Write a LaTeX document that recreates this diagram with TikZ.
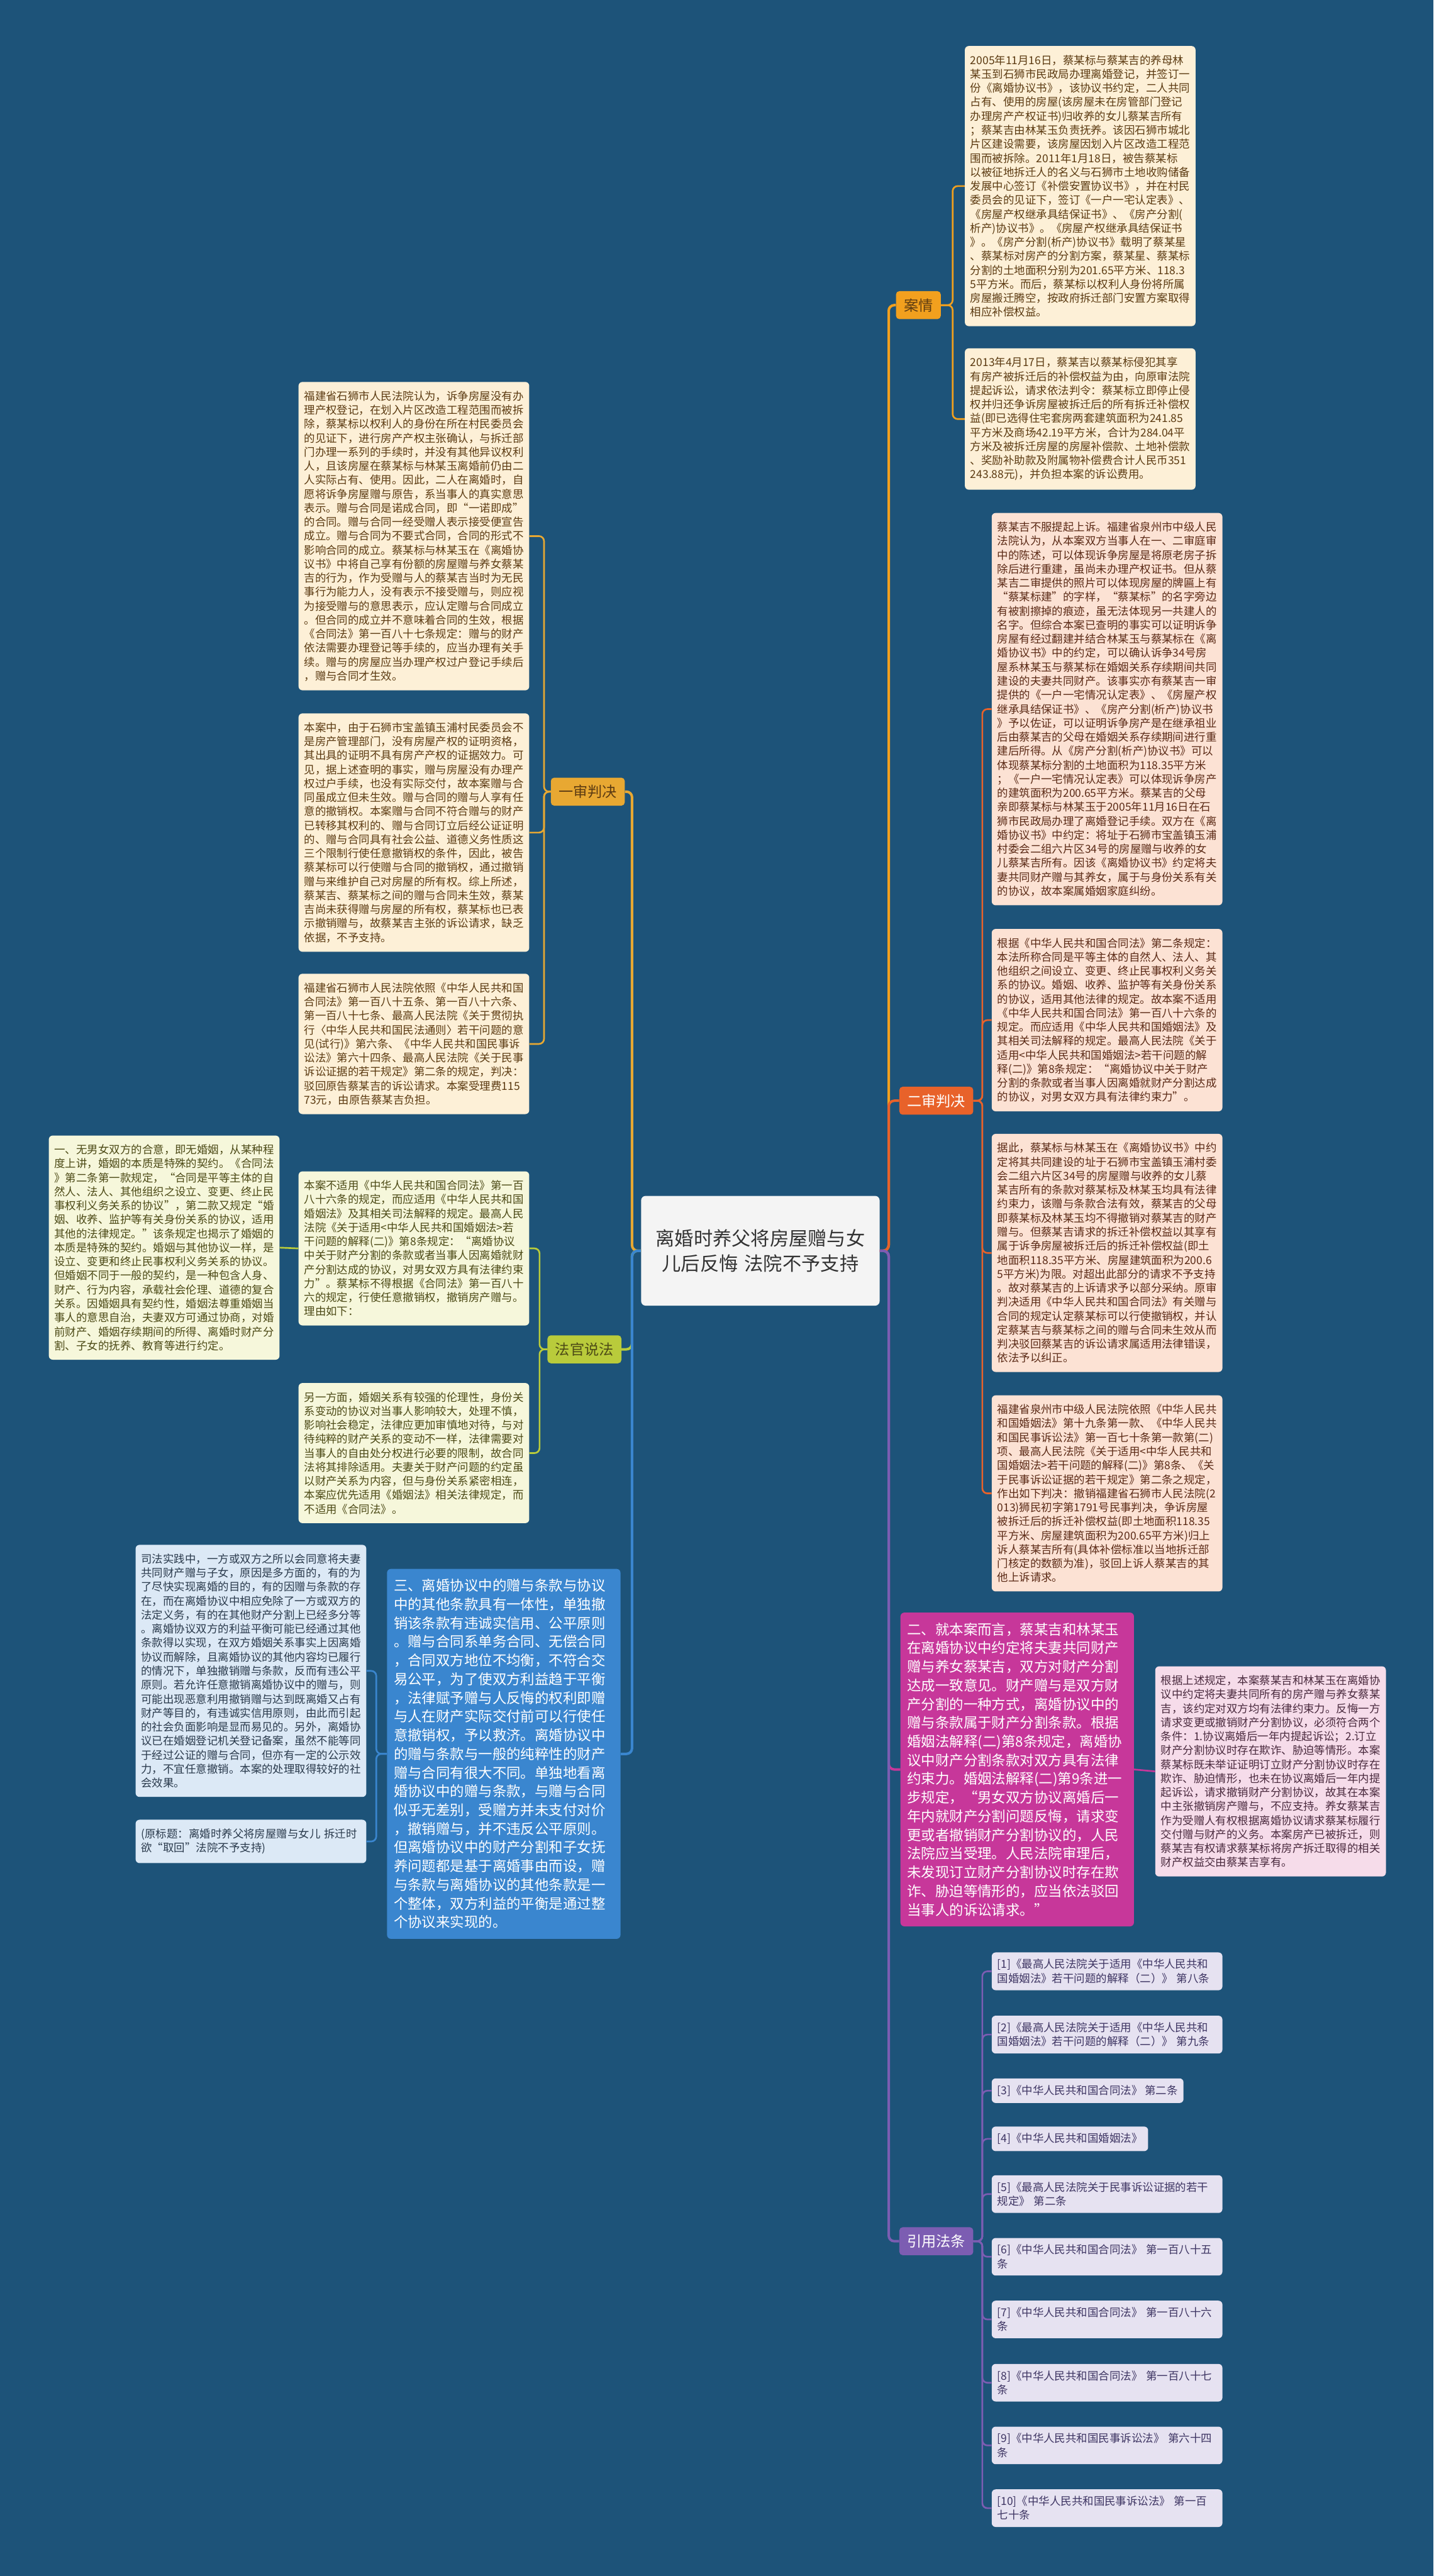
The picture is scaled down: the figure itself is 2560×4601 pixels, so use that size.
\documentclass[tikz,border=0pt]{standalone}
\usepackage{fontspec}
\newfontfamily\cjk{Noto Sans CJK SC}
\hfuzz=200pt \hbadness=10000 \vbadness=10000
\definecolor{bgc}{HTML}{1D5379}
\definecolor{cAq}{HTML}{F2A01E}
\definecolor{cYs}{HTML}{E8A832}
\definecolor{cEs}{HTML}{E8622A}
\definecolor{cFg}{HTML}{B9CB3B}
\definecolor{cMg}{HTML}{C7379A}
\definecolor{cBl}{HTML}{3A86CF}
\definecolor{cYy}{HTML}{7C5DB2}
\definecolor{fAq}{HTML}{FDF0D7}
\definecolor{fEs}{HTML}{FCE2D4}
\definecolor{fFg}{HTML}{F6F7DB}
\definecolor{fPk}{HTML}{F6DCEA}
\definecolor{fLb}{HTML}{DCE9F6}
\definecolor{fLv}{HTML}{E6E2F1}
\definecolor{fCtr}{HTML}{F4F4F4}
\definecolor{tAq}{HTML}{5C3B12}
\definecolor{tEs}{HTML}{5B2A16}
\definecolor{tFg}{HTML}{4C4A16}
\definecolor{tPk}{HTML}{4A2A3E}
\definecolor{tLb}{HTML}{2A3A4C}
\definecolor{tLv}{HTML}{3E3563}
\definecolor{tCtr}{HTML}{333333}
\tikzset{
  bx/.style={anchor=north west, rounded corners=7pt, inner xsep=10pt, inner ysep=16pt,
    text width=392pt, align=left, font=\cjk\fontsize{19.6}{25}\selectfont},
  bigbx/.style={anchor=north west, rounded corners=7pt, inner xsep=12pt, inner ysep=18pt,
    text width=393pt, align=left, font=\cjk\fontsize{25.2}{33.4}\selectfont},
  refbx/.style={bx, inner ysep=12pt, fill=fLv, text=tLv},
  refshort/.style={anchor=north west, rounded corners=7pt, inner xsep=10pt, inner ysep=12pt,
    align=left, font=\cjk\fontsize{19.6}{25}\selectfont, fill=fLv, text=tLv},
  lbl/.style={rounded corners=6pt, inner xsep=14pt, inner ysep=0pt, minimum height=50pt,
    font=\cjk\fontsize{26}{30}\selectfont},
  mainl/.style={line width=4.5pt, rounded corners=10pt},
  subl/.style={line width=3pt, rounded corners=9pt},
}
\begin{document}
\begin{tikzpicture}[x=1pt,y=-1pt]
\fill[bgc] (0,0) rectangle (2560,4601);
\useasboundingbox (0,0) rectangle (2560,4601);

% central node
\node[fill=fCtr, text=tCtr, rounded corners=8pt, text width=374pt, align=center,
  inner xsep=26pt, minimum height=196pt, font=\cjk\fontsize{34}{44}\selectfont]
  (ctr) at (1358,2234) {离婚时养父将房屋赠与女\\儿后反悔~法院不予支持};

% branch labels
\node[lbl, fill=cAq, text=tAq, anchor=west] (lanq) at (1600,545) {案情};
\node[lbl, fill=cYs, text=tAq, anchor=east] (lys) at (1116,1414) {一审判决};
\node[lbl, fill=cEs, text=white, anchor=west] (les) at (1606,1966) {二审判决};
\node[lbl, fill=cFg, text=tFg, anchor=east] (lfg) at (1110,2410) {法官说法};
\node[lbl, fill=cYy, text=white, anchor=west] (lyy) at (1606,4003) {引用法条};

% 案情
\node[bx, fill=fAq, text=tAq] (aq1) at (1723,82) {2005年11月16日，蔡某标与蔡某吉的养母林\\某玉到石狮市民政局办理离婚登记，并签订一\\份《离婚协议书》，该协议书约定，二人共同\\占有、使用的房屋(该房屋未在房管部门登记\\办理房产产权证书)归收养的女儿蔡某吉所有\\；蔡某吉由林某玉负责抚养。该因石狮市城北\\片区建设需要，该房屋因划入片区改造工程范\\围而被拆除。2011年1月18日，被告蔡某标\\以被征地拆迁人的名义与石狮市土地收购储备\\发展中心签订《补偿安置协议书》，并在村民\\委员会的见证下，签订《一户一宅认定表》、\\《房屋产权继承具结保证书》、《房产分割(\\析产)协议书》。《房屋产权继承具结保证书\\》。《房产分割(析产)协议书》载明了蔡某星\\、蔡某标对房产的分割方案，蔡某星、蔡某标\\分割的土地面积分别为201.65平方米、118.3\\5平方米。而后，蔡某标以权利人身份将所属\\房屋搬迁腾空，按政府拆迁部门安置方案取得\\相应补偿权益。};
\node[bx, fill=fAq, text=tAq] (aq2) at (1723,622) {2013年4月17日，蔡某吉以蔡某标侵犯其享\\有房产被拆迁后的补偿权益为由，向原审法院\\提起诉讼，请求依法判令：蔡某标立即停止侵\\权并归还争诉房屋被拆迁后的所有拆迁补偿权\\益(即已选得住宅套房两套建筑面积为241.85\\平方米及商场42.19平方米，合计为284.04平\\方米及被拆迁房屋的房屋补偿款、土地补偿款\\、奖励补助款及附属物补偿费合计人民币351\\243.88元)，并负担本案的诉讼费用。};

% 一审
\node[bx, fill=fAq, text=tAq] (ys1) at (533,682) {福建省石狮市人民法院认为，诉争房屋没有办\\理产权登记，在划入片区改造工程范围而被拆\\除，蔡某标以权利人的身份在所在村民委员会\\的见证下，进行房产产权主张确认，与拆迁部\\门办理一系列的手续时，并没有其他异议权利\\人，且该房屋在蔡某标与林某玉离婚前仍由二\\人实际占有、使用。因此，二人在离婚时，自\\愿将诉争房屋赠与原告，系当事人的真实意思\\表示。赠与合同是诺成合同，即“一诺即成”\\的合同。赠与合同一经受赠人表示接受便宣告\\成立。赠与合同为不要式合同，合同的形式不\\影响合同的成立。蔡某标与林某玉在《离婚协\\议书》中将自己享有份额的房屋赠与养女蔡某\\吉的行为，作为受赠与人的蔡某吉当时为无民\\事行为能力人，没有表示不接受赠与，则应视\\为接受赠与的意思表示，应认定赠与合同成立\\。但合同的成立并不意味着合同的生效，根据\\《合同法》第一百八十七条规定：赠与的财产\\依法需要办理登记等手续的，应当办理有关手\\续。赠与的房屋应当办理产权过户登记手续后\\，赠与合同才生效。};
\node[bx, fill=fAq, text=tAq] (ys2) at (533,1274) {本案中，由于石狮市宝盖镇玉浦村民委员会不\\是房产管理部门，没有房屋产权的证明资格，\\其出具的证明不具有房产产权的证据效力。可\\见，据上述查明的事实，赠与房屋没有办理产\\权过户手续，也没有实际交付，故本案赠与合\\同虽成立但未生效。赠与合同的赠与人享有任\\意的撤销权。本案赠与合同不符合赠与的财产\\已转移其权利的、赠与合同订立后经公证证明\\的、赠与合同具有社会公益、道德义务性质这\\三个限制行使任意撤销权的条件，因此，被告\\蔡某标可以行使赠与合同的撤销权，通过撤销\\赠与来维护自己对房屋的所有权。综上所述，\\蔡某吉、蔡某标之间的赠与合同未生效，蔡某\\吉尚未获得赠与房屋的所有权，蔡某标也已表\\示撤销赠与，故蔡某吉主张的诉讼请求，缺乏\\依据，不予支持。};
\node[bx, fill=fAq, text=tAq] (ys3) at (533,1739) {福建省石狮市人民法院依照《中华人民共和国\\合同法》第一百八十五条、第一百八十六条、\\第一百八十七条、最高人民法院《关于贯彻执\\行〈中华人民共和国民法通则〉若干问题的意\\见(试行)》第六条、《中华人民共和国民事诉\\讼法》第六十四条、最高人民法院《关于民事\\诉讼证据的若干规定》第二条的规定，判决：\\驳回原告蔡某吉的诉讼请求。本案受理费115\\73元，由原告蔡某吉负担。};

% 二审
\node[bx, fill=fEs, text=tEs] (es1) at (1771,916) {蔡某吉不服提起上诉。福建省泉州市中级人民\\法院认为，从本案双方当事人在一、二审庭审\\中的陈述，可以体现诉争房屋是将原老房子拆\\除后进行重建，虽尚未办理产权证书。但从蔡\\某吉二审提供的照片可以体现房屋的牌匾上有\\“蔡某标建”的字样，“蔡某标”的名字旁边\\有被割擦掉的痕迹，虽无法体现另一共建人的\\名字。但综合本案已查明的事实可以证明诉争\\房屋有经过翻建并结合林某玉与蔡某标在《离\\婚协议书》中的约定，可以确认诉争34号房\\屋系林某玉与蔡某标在婚姻关系存续期间共同\\建设的夫妻共同财产。该事实亦有蔡某吉一审\\提供的《一户一宅情况认定表》、《房屋产权\\继承具结保证书》、《房产分割(析产)协议书\\》予以佐证，可以证明诉争房产是在继承祖业\\后由蔡某吉的父母在婚姻关系存续期间进行重\\建后所得。从《房产分割(析产)协议书》可以\\体现蔡某标分割的土地面积为118.35平方米\\；《一户一宅情况认定表》可以体现诉争房产\\的建筑面积为200.65平方米。蔡某吉的父母\\亲即蔡某标与林某玉于2005年11月16日在石\\狮市民政局办理了离婚登记手续。双方在《离\\婚协议书》中约定：将址于石狮市宝盖镇玉浦\\村委会二组六片区34号的房屋赠与收养的女\\儿蔡某吉所有。因该《离婚协议书》约定将夫\\妻共同财产赠与其养女，属于与身份关系有关\\的协议，故本案属婚姻家庭纠纷。};
\node[bx, fill=fEs, text=tEs] (es2) at (1771,1659) {根据《中华人民共和国合同法》第二条规定：\\本法所称合同是平等主体的自然人、法人、其\\他组织之间设立、变更、终止民事权利义务关\\系的协议。婚姻、收养、监护等有关身份关系\\的协议，适用其他法律的规定。故本案不适用\\《中华人民共和国合同法》第一百八十六条的\\规定。而应适用《中华人民共和国婚姻法》及\\其相关司法解释的规定。最高人民法院《关于\\适用<中华人民共和国婚姻法>若干问题的解\\释(二)》第8条规定：“离婚协议中关于财产\\分割的条款或者当事人因离婚就财产分割达成\\的协议，对男女双方具有法律约束力”。};
\node[bx, fill=fEs, text=tEs] (es3) at (1771,2025) {据此，蔡某标与林某玉在《离婚协议书》中约\\定将其共同建设的址于石狮市宝盖镇玉浦村委\\会二组六片区34号的房屋赠与收养的女儿蔡\\某吉所有的条款对蔡某标及林某玉均具有法律\\约束力，该赠与条款合法有效，蔡某吉的父母\\即蔡某标及林某玉均不得撤销对蔡某吉的财产\\赠与。但蔡某吉请求的拆迁补偿权益以其享有\\属于诉争房屋被拆迁后的拆迁补偿权益(即土\\地面积118.35平方米、房屋建筑面积为200.6\\5平方米)为限。对超出此部分的请求不予支持\\。故对蔡某吉的上诉请求予以部分采纳。原审\\判决适用《中华人民共和国合同法》有关赠与\\合同的规定认定蔡某标可以行使撤销权，并认\\定蔡某吉与蔡某标之间的赠与合同未生效从而\\判决驳回蔡某吉的诉讼请求属适用法律错误，\\依法予以纠正。};
\node[bx, fill=fEs, text=tEs] (es4) at (1771,2492) {福建省泉州市中级人民法院依照《中华人民共\\和国婚姻法》第十九条第一款、《中华人民共\\和国民事诉讼法》第一百七十条第一款第(二)\\项、最高人民法院《关于适用<中华人民共和\\国婚姻法>若干问题的解释(二)》第8条、《关\\于民事诉讼证据的若干规定》第二条之规定，\\作出如下判决：撤销福建省石狮市人民法院(2\\013)狮民初字第1791号民事判决，争诉房屋\\被拆迁后的拆迁补偿权益(即土地面积118.35\\平方米、房屋建筑面积为200.65平方米)归上\\诉人蔡某吉所有(具体补偿标准以当地拆迁部\\门核定的数额为准)，驳回上诉人蔡某吉的其\\他上诉请求。};

% 法官说法
\node[bx, fill=fFg, text=tFg] (fg1) at (533,2092) {本案不适用《中华人民共和国合同法》第一百\\八十六条的规定，而应适用《中华人民共和国\\婚姻法》及其相关司法解释的规定。最高人民\\法院《关于适用<中华人民共和国婚姻法>若\\干问题的解释(二)》第8条规定：“离婚协议\\中关于财产分割的条款或者当事人因离婚就财\\产分割达成的协议，对男女双方具有法律约束\\力”。蔡某标不得根据《合同法》第一百八十\\六的规定，行使任意撤销权，撤销房产赠与。\\理由如下：};
\node[bx, fill=fFg, text=tFg] (fg2) at (533,2470) {另一方面，婚姻关系有较强的伦理性，身份关\\系变动的协议对当事人影响较大，处理不慎，\\影响社会稳定，法律应更加审慎地对待，与对\\待纯粹的财产关系的变动不一样，法律需要对\\当事人的自由处分权进行必要的限制，故合同\\法将其排除适用。夫妻关于财产问题的约定虽\\以财产关系为内容，但与身份关系紧密相连，\\本案应优先适用《婚姻法》相关法律规定，而\\不适用《合同法》。};
\node[bx, fill=fFg, text=tFg] (fg0) at (87,2028) {一、无男女双方的合意，即无婚姻，从某种程\\度上讲，婚姻的本质是特殊的契约。《合同法\\》第二条第一款规定，“合同是平等主体的自\\然人、法人、其他组织之设立、变更、终止民\\事权利义务关系的协议”，第二款又规定“婚\\姻、收养、监护等有关身份关系的协议，适用\\其他的法律规定。”该条规定也揭示了婚姻的\\本质是特殊的契约。婚姻与其他协议一样，是\\设立、变更和终止民事权利义务关系的协议。\\但婚姻不同于一般的契约，是一种包含人身、\\财产、行为内容，承载社会伦理、道德的复合\\关系。因婚姻具有契约性，婚姻法尊重婚姻当\\事人的意思自治，夫妻双方可通过协商，对婚\\前财产、婚姻存续期间的所得、离婚时财产分\\割、子女的抚养、教育等进行约定。};

% 三、 blue
\node[bigbx, fill=cBl, text=white] (bl) at (691,2802) {三、离婚协议中的赠与条款与协议\\中的其他条款具有一体性，单独撤\\销该条款有违诚实信用、公平原则\\。赠与合同系单务合同、无偿合同\\，合同双方地位不均衡，不符合交\\易公平，为了使双方利益趋于平衡\\，法律赋予赠与人反悔的权利即赠\\与人在财产实际交付前可以行使任\\意撤销权，予以救济。离婚协议中\\的赠与条款与一般的纯粹性的财产\\赠与合同有很大不同。单独地看离\\婚协议中的赠与条款，与赠与合同\\似乎无差别，受赠方并未支付对价\\，撤销赠与，并不违反公平原则。\\但离婚协议中的财产分割和子女抚\\养问题都是基于离婚事由而设，赠\\与条款与离婚协议的其他条款是一\\个整体，双方利益的平衡是通过整\\个协议来实现的。};
\node[bx, fill=fLb, text=tLb] (bl1) at (242,2759) {司法实践中，一方或双方之所以会同意将夫妻\\共同财产赠与子女，原因是多方面的，有的为\\了尽快实现离婚的目的，有的因赠与条款的存\\在，而在离婚协议中相应免除了一方或双方的\\法定义务，有的在其他财产分割上已经多分等\\。离婚协议双方的利益平衡可能已经通过其他\\条款得以实现，在双方婚姻关系事实上因离婚\\协议而解除，且离婚协议的其他内容均已履行\\的情况下，单独撤销赠与条款，反而有违公平\\原则。若允许任意撤销离婚协议中的赠与，则\\可能出现恶意利用撤销赠与达到既离婚又占有\\财产等目的，有违诚实信用原则，由此而引起\\的社会负面影响是显而易见的。另外，离婚协\\议已在婚姻登记机关登记备案，虽然不能等同\\于经过公证的赠与合同，但亦有一定的公示效\\力，不宜任意撤销。本案的处理取得较好的社\\会效果。};
\node[bx, fill=fLb, text=tLb] (bl2) at (242,3250) {(原标题：离婚时养父将房屋赠与女儿~拆迁时\\欲“取回”法院不予支持)};

% 二、 magenta
\node[bigbx, fill=cMg, text=white] (mg) at (1608,2880) {二、就本案而言，蔡某吉和林某玉\\在离婚协议中约定将夫妻共同财产\\赠与养女蔡某吉，双方对财产分割\\达成一致意见。财产赠与是双方财\\产分割的一种方式，离婚协议中的\\赠与条款属于财产分割条款。根据\\婚姻法解释(二)第8条规定，离婚协\\议中财产分割条款对双方具有法律\\约束力。婚姻法解释(二)第9条进一\\步规定，“男女双方协议离婚后一\\年内就财产分割问题反悔，请求变\\更或者撤销财产分割协议的，人民\\法院应当受理。人民法院审理后，\\未发现订立财产分割协议时存在欺\\诈、胁迫等情形的，应当依法驳回\\当事人的诉讼请求。”};
\node[bx, fill=fPk, text=tPk] (mg1) at (2063,2976) {根据上述规定，本案蔡某吉和林某玉在离婚协\\议中约定将夫妻共同所有的房产赠与养女蔡某\\吉，该约定对双方均有法律约束力。反悔一方\\请求变更或撤销财产分割协议，必须符合两个\\条件：1.协议离婚后一年内提起诉讼；2.订立\\财产分割协议时存在欺诈、胁迫等情形。本案\\蔡某标既未举证证明订立财产分割协议时存在\\欺诈、胁迫情形，也未在协议离婚后一年内提\\起诉讼，请求撤销财产分割协议，故其在本案\\中主张撤销房产赠与，不应支持。养女蔡某吉\\作为受赠人有权根据离婚协议请求蔡某标履行\\交付赠与财产的义务。本案房产已被拆迁，则\\蔡某吉有权请求蔡某标将房产拆迁取得的相关\\财产权益交由蔡某吉享有。};

% 引用法条
\node[refbx] (r1) at (1771,3487) {[1]《最高人民法院关于适用《中华人民共和\\国婚姻法》若干问题的解释（二）》~第八条};
\node[refbx] (r2) at (1771,3600) {[2]《最高人民法院关于适用《中华人民共和\\国婚姻法》若干问题的解释（二）》~第九条};
\node[refshort] (r3) at (1771,3712) {[3]《中华人民共和国合同法》~第二条};
\node[refshort] (r4) at (1771,3798) {[4]《中华人民共和国婚姻法》};
\node[refbx] (r5) at (1771,3885) {[5]《最高人民法院关于民事诉讼证据的若干\\规定》~第二条};
\node[refbx] (r6) at (1771,3997) {[6]《中华人民共和国合同法》~第一百八十五\\条};
\node[refbx] (r7) at (1771,4109) {[7]《中华人民共和国合同法》~第一百八十六\\条};
\node[refbx] (r8) at (1771,4222) {[8]《中华人民共和国合同法》~第一百八十七\\条};
\node[refbx] (r9) at (1771,4334) {[9]《中华人民共和国民事诉讼法》~第六十四\\条};
\node[refbx] (r10) at (1771,4446) {[10]《中华人民共和国民事诉讼法》~第一百\\七十条};

% ---- connectors ----
% main branches
\draw[mainl, cAq] (ctr.east) -- ([xshift=16pt]ctr.east) |- (lanq.west);
\draw[mainl, cEs] (ctr.east) -- ([xshift=16pt]ctr.east) |- (les.west);
\draw[mainl, cMg] (ctr.east) -- ([xshift=16pt]ctr.east) |- (mg.west);
\draw[mainl, cYy] (ctr.east) -- ([xshift=16pt]ctr.east) |- (lyy.west);
\draw[mainl, cYs] (ctr.west) -- ([xshift=-16pt]ctr.west) |- (lys.east);
\draw[mainl, cFg] (ctr.west) -- ([xshift=-16pt]ctr.west) |- (lfg.east);
\draw[mainl, cBl] (ctr.west) -- ([xshift=-16pt]ctr.west) |- (bl.east);
% sub branches
\foreach \t in {aq1,aq2}
  \draw[subl, cAq] (lanq.east) -- ([xshift=21pt]lanq.east) |- (\t.west);
\foreach \t in {ys1,ys2,ys3}
  \draw[subl, cYs] (lys.west) -- ([xshift=-12pt]lys.west) |- (\t.east);
\foreach \t in {es1,es2,es3,es4}
  \draw[subl, cEs] (les.east) -- ([xshift=16pt]les.east) |- (\t.west);
\foreach \t in {fg1,fg2}
  \draw[subl, cFg] (lfg.west) -- ([xshift=-14pt]lfg.west) |- (\t.east);
\draw[subl, cFg] (fg1.west) -- (fg0.east);
\foreach \t in {bl1,bl2}
  \draw[subl, cBl] (bl.west) -- ([xshift=-19pt]bl.west) |- (\t.east);
\draw[subl, cMg] (mg.east) -- (mg1.west);
\foreach \t in {r1,r2,r3,r4,r5,r6,r7,r8,r9,r10}
  \draw[subl, cYy] (lyy.east) -- ([xshift=16pt]lyy.east) |- (\t.west);
\end{tikzpicture}
\end{document}
